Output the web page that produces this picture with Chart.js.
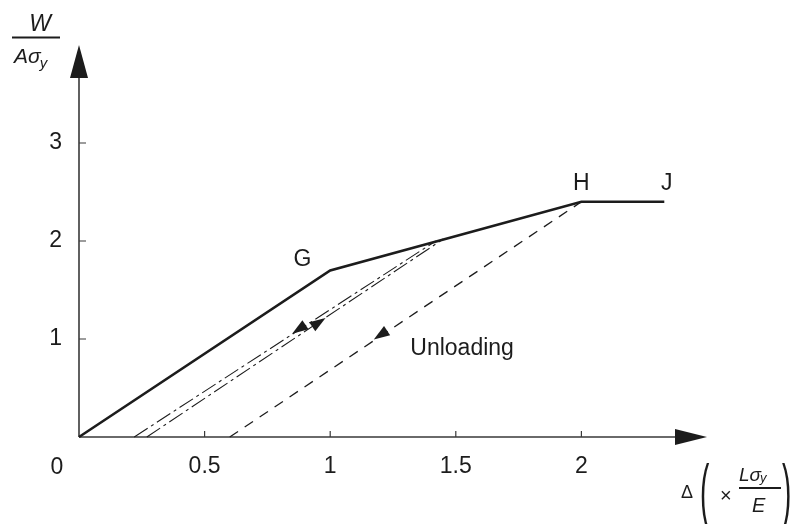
<!DOCTYPE html>
<html>
<head>
<meta charset="utf-8">
<script src="https://cdn.jsdelivr.net/npm/chart.js@4/dist/chart.umd.min.js"></script>
<style>
  html, body { margin: 0; padding: 0; background: #fff; }
  #wrap { width: 791px; height: 524px; }
</style>
</head>
<body>
<div id="wrap"><canvas id="chart" width="791" height="524"></canvas></div>
<script>
// loading path O - G - H - J
const loadX = [0, 1, 2, 2.33];
const loadY = [0, 1.7, 2.4, 2.4];

// unloading / reloading from the point between G and H (two dash-dot lines)
const unloadAX = [0.22, 1.42];
const unloadAY = [0, 2.0];
const unloadBX = [0.27, 1.45];
const unloadBY = [0, 2.02];

// unloading from H (dashed)
const unloadHX = [0.6, 2];
const unloadHY = [0, 2.4];

// arrowheads on the unloading lines (-1 = going down, 1 = going up)
const arrowX = [0.875, 0.955, 1.2];
const arrowY = [1.1, 1.17, 1.04];
const arrowDir = [-1, 1, -1];

// point names
const pointNames = ['G', 'H', 'J'];
const pointNameX = [0.89, 2.0, 2.34];
const pointNameY = [1.81, 2.59, 2.59];

const xMax = 2.5, yMax = 4;
const xStep = 0.5, yStep = 1;

const FONT = '"Liberation Sans", Arial, Helvetica, sans-serif';
const INK = '#1c1c1c';

function pts (xs, ys) {
    return xs.map((v, i) => ({ x: v, y: ys[i] }));
}

/**
 * Writes "<base>σ" with a subscript y right after it.
 */
function sigmaY (ctx, base, left, baseline, size, subSize, drop) {
    ctx.textAlign = 'left';
    ctx.font = `italic ${size}px ${FONT}`;
    ctx.fillText(base + 'σ', left, baseline);
    const w = ctx.measureText(base + 'σ').width;
    ctx.font = `italic ${subSize}px ${FONT}`;
    ctx.fillText('y', left + w - 1, baseline + drop);
}

/**
 * Axis lines, arrowheads on axes and inward tick marks.
 */
const axesPlugin = {
    id: 'axes',
    beforeDatasetsDraw (chart) {
        const { ctx, scales: { x, y } } = chart;
        const x0 = x.getPixelForValue(0), y0 = y.getPixelForValue(0);
        const xe = x.getPixelForValue(x.max), ye = y.getPixelForValue(y.max);
        ctx.save();
        ctx.strokeStyle = '#3a3a3a';
        ctx.lineWidth = 1.6;
        ctx.beginPath();
        ctx.moveTo(x0, y0); ctx.lineTo(xe - 20, y0);
        ctx.moveTo(x0, y0); ctx.lineTo(x0, ye + 20);
        ctx.stroke();

        ctx.fillStyle = INK;
        ctx.beginPath();
        ctx.moveTo(xe, y0); ctx.lineTo(xe - 32, y0 - 8); ctx.lineTo(xe - 32, y0 + 8);
        ctx.closePath(); ctx.fill();
        ctx.beginPath();
        ctx.moveTo(x0, ye); ctx.lineTo(x0 - 9, ye + 33); ctx.lineTo(x0 + 9, ye + 33);
        ctx.closePath(); ctx.fill();

        // tick marks pointing into the plot
        ctx.lineWidth = 1.2;
        ctx.beginPath();
        x.ticks.forEach(t => {
            if (t.value <= 0 || t.value >= x.max) return;
            const px = x.getPixelForValue(t.value);
            ctx.moveTo(px, y0); ctx.lineTo(px, y0 - 6);
        });
        y.ticks.forEach(t => {
            if (t.value <= 0 || t.value >= y.max) return;
            const py = y.getPixelForValue(t.value);
            ctx.moveTo(x0, py); ctx.lineTo(x0 + 7, py);
        });
        ctx.stroke();
        ctx.restore();
    }
};

/**
 * Arrowheads on unloading lines, point names and axis titles.
 */
const notesPlugin = {
    id: 'notes',
    afterDatasetsDraw (chart) {
        const { ctx, scales: { x, y } } = chart;
        // direction of the elastic unloading lines in pixels
        let dx = x.getPixelForValue(unloadHX[1]) - x.getPixelForValue(unloadHX[0]);
        let dy = y.getPixelForValue(unloadHY[1]) - y.getPixelForValue(unloadHY[0]);
        const len = Math.hypot(dx, dy);
        dx /= len; dy /= len;

        ctx.save();
        ctx.fillStyle = INK;
        arrowX.forEach((ax, i) => {
            const cx = x.getPixelForValue(ax), cy = y.getPixelForValue(arrowY[i]);
            const ux = dx * arrowDir[i], uy = dy * arrowDir[i];
            const L = 16, W = 5.5;
            ctx.beginPath();
            ctx.moveTo(cx + ux * L / 2, cy + uy * L / 2);
            ctx.lineTo(cx - ux * L / 2 - uy * W, cy - uy * L / 2 + ux * W);
            ctx.lineTo(cx - ux * L / 2 + uy * W, cy - uy * L / 2 - ux * W);
            ctx.closePath();
            ctx.fill();
        });

        ctx.textAlign = 'center';
        ctx.textBaseline = 'middle';
        ctx.font = `23px ${FONT}`;
        pointNames.forEach((n, i) => {
            ctx.fillText(n, x.getPixelForValue(pointNameX[i]), y.getPixelForValue(pointNameY[i]));
        });
        ctx.fillText('Unloading', x.getPixelForValue(1.525), y.getPixelForValue(0.9));

        // shared origin label
        ctx.fillText('0', x.getPixelForValue(0) - 22, y.getPixelForValue(0) + 31);
        ctx.restore();
    },
    afterDraw (chart) {
        const { ctx } = chart;
        ctx.save();
        ctx.fillStyle = INK;
        ctx.strokeStyle = INK;
        ctx.textBaseline = 'alphabetic';

        // y title: W / (A sigma_y)
        ctx.textAlign = 'center';
        ctx.font = `italic 23px ${FONT}`;
        ctx.fillText('W', 40, 31);
        ctx.lineWidth = 2;
        ctx.beginPath(); ctx.moveTo(12, 37.5); ctx.lineTo(60, 37.5); ctx.stroke();
        sigmaY(ctx, 'A', 14, 63, 21, 15, 5);

        // x title: Delta ( x L sigma_y / E )
        ctx.textAlign = 'left';
        ctx.font = `18px ${FONT}`;
        ctx.fillText('Δ', 681, 498);
        ctx.save();
        ctx.translate(700, 0);
        ctx.scale(1, 2.6);
        ctx.font = `28px ${FONT}`;
        ctx.fillText('(', 0, 515 / 2.6);
        ctx.fillText(')', 82, 515 / 2.6);
        ctx.restore();
        ctx.font = `20px ${FONT}`;
        ctx.fillText('×', 720, 502);
        sigmaY(ctx, 'L', 739, 481, 19, 13, 1);
        ctx.font = `italic 20px ${FONT}`;
        ctx.fillText('E', 752, 512);
        ctx.lineWidth = 1.8;
        ctx.beginPath(); ctx.moveTo(739, 488); ctx.lineTo(781, 488); ctx.stroke();
        ctx.restore();
    }
};

const lineStyle = { showLine: true, pointRadius: 0, fill: false, clip: false, borderColor: INK };

new Chart(document.getElementById('chart').getContext('2d'), {
    type: 'scatter',
    data: {
        datasets: [
            { ...lineStyle, label: 'Loading', data: pts(loadX, loadY), borderWidth: 2.6 },
            { ...lineStyle, label: 'Unloading A', data: pts(unloadAX, unloadAY), borderWidth: 1.1, borderDash: [16, 4, 3, 4] },
            { ...lineStyle, label: 'Unloading B', data: pts(unloadBX, unloadBY), borderWidth: 1.1, borderDash: [16, 4, 3, 4] },
            { ...lineStyle, label: 'Unloading H', data: pts(unloadHX, unloadHY), borderWidth: 1.3, borderDash: [10, 8] }
        ]
    },
    options: {
        responsive: false,
        animation: false,
        devicePixelRatio: 1,
        layout: { padding: { top: 45, right: 84, left: 0, bottom: 0 } },
        plugins: { legend: { display: false }, tooltip: { enabled: false } },
        scales: {
            x: {
                type: 'linear', min: 0, max: xMax,
                grid: { display: false, drawTicks: false },
                border: { display: false },
                ticks: {
                    stepSize: xStep, padding: 16, color: INK,
                    font: { family: FONT, size: 23 },
                    callback: (v) => (v <= 0 || v >= xMax) ? '' : String(v)
                },
                afterFit: (s) => { s.height = 87; }
            },
            y: {
                type: 'linear', min: 0, max: yMax,
                grid: { display: false, drawTicks: false },
                border: { display: false },
                ticks: {
                    stepSize: yStep, padding: 17, color: INK,
                    font: { family: FONT, size: 23 },
                    callback: (v) => (v <= 0 || v >= yMax) ? '' : String(v)
                },
                afterFit: (s) => { s.width = 79; }
            }
        }
    },
    plugins: [axesPlugin, notesPlugin]
});
</script>
</body>
</html>
